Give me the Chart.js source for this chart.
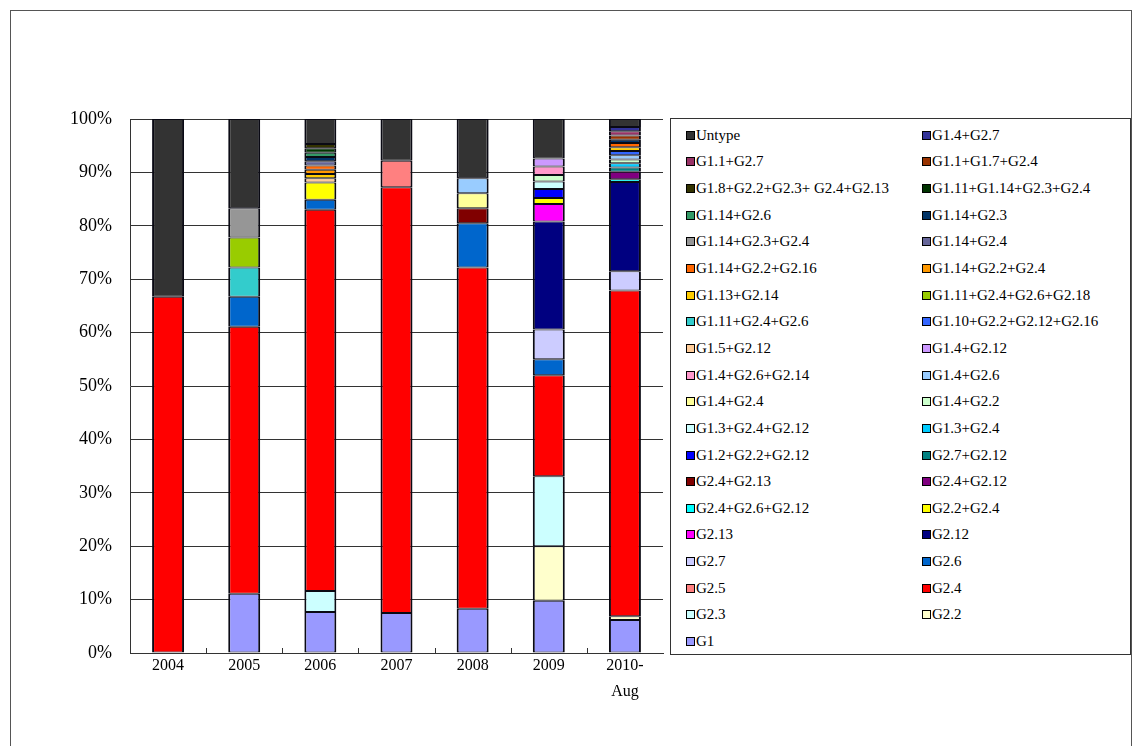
<!DOCTYPE html>
<html>
<head>
<meta charset="utf-8">
<script src="https://cdn.jsdelivr.net/npm/chart.js@4/dist/chart.umd.min.js"></script>
<style>
  html, body { margin: 0; padding: 0; background: #fff; }
  #wrap { position: relative; width: 1144px; height: 746px; overflow: hidden; }
  #frame { position: absolute; left: 10px; top: 10px; width: 1122px; height: 760px; border: 1px solid #555; box-sizing: border-box; }
  #c { position: absolute; left: 0; top: 0; }
  #legend {
    position: absolute; left: 670px; top: 118px; width: 461px; height: 537px;
    border: 1px solid #333; box-sizing: border-box; background: #fff;
    padding: 3px 0 0 15px;
    display: grid; grid-template-columns: 236px 200px; grid-auto-rows: 26.65px;
    font-family: "Liberation Serif", "DejaVu Serif", serif; font-size: 15px; color: #000;
  }
  .item { display: flex; align-items: center; white-space: pre; }
  .sw { width: 7px; height: 7px; border: 1px solid #000; margin-right: 1px; flex: none; }
</style>
</head>
<body>
<div id="wrap">
  <div id="frame"></div>
  <canvas id="c" width="1144" height="746"></canvas>
  <div id="legend"></div>
</div>
<script>
// Years on the category axis
const years = ['2004', '2005', '2006', '2007', '2008', '2009', ['2010-', 'Aug']];

// Genotype combinations, in stacking order (bottom to top)
const genotypes = [
  'G1', 'G2.2', 'G2.3', 'G2.4', 'G2.5', 'G2.6', 'G2.7', 'G2.12', 'G2.13',
  'G2.2+G2.4', 'G2.4+G2.6+G2.12', 'G2.4+G2.12', 'G2.4+G2.13', 'G2.7+G2.12',
  'G1.2+G2.2+G2.12', 'G1.3+G2.4', 'G1.3+G2.4+G2.12', 'G1.4+G2.2', 'G1.4+G2.4',
  'G1.4+G2.6', 'G1.4+G2.6+G2.14', 'G1.4+G2.12', 'G1.5+G2.12',
  'G1.10+G2.2+G2.12+G2.16', 'G1.11+G2.4+G2.6', 'G1.11+G2.4+G2.6+G2.18',
  'G1.13+G2.14', 'G1.14+G2.2+G2.4', 'G1.14+G2.2+G2.16', 'G1.14+G2.4',
  'G1.14+G2.3+G2.4', 'G1.14+G2.3', 'G1.14+G2.6', 'G1.11+G1.14+G2.3+G2.4',
  'G1.8+G2.2+G2.3+ G2.4+G2.13', 'G1.1+G1.7+G2.4', 'G1.1+G2.7', 'G1.4+G2.7', 'Untype'
];

// Fill colour of each genotype, same order as above
const palette = [
  '#9999FF', '#FFFFCC', '#CCFFFF', '#FF0000', '#FF8080', '#0066CC', '#CCCCFF', '#000080', '#FF00FF',
  '#FFFF00', '#00FFFF', '#800080', '#800000', '#008080',
  '#0000FF', '#00CCFF', '#CCFFFF', '#CCFFCC', '#FFFF99',
  '#99CCFF', '#FF99CC', '#CC99FF', '#FFCC99',
  '#3366FF', '#33CCCC', '#99CC00',
  '#FFCC00', '#FF9900', '#FF6600', '#666699',
  '#969696', '#003366', '#339966', '#003300',
  '#333300', '#993300', '#993366', '#333399', '#333333'
];

// Share (%) of each genotype per year, same order as genotypes
//              G1   2.2  2.3  2.4   2.5  2.6  2.7  2.12  2.13 | 9    10   11   12   13 | 14   15   16   17   18 | 19   20   21   22 | 23   24   25 | 26   27   28   29 | 30   31   32   33 | 34   35   36   37  Untype
const y2004 = [0,   0,   0,   66.7, 0,   0,   0,   0,    0,     0,   0,   0,   0,   0,   0,   0,   0,   0,   0,   0,   0,   0,   0,   0,   0,   0,   0,   0,   0,   0,   0,   0,   0,   0,   0,   0,   0,   0,   33.3];
const y2005 = [11.1, 0,  0,   50.0, 0,   5.6, 0,   0,    0,     0,   0,   0,   0,   0,   0,   0,   0,   0,   0,   0,   0,   0,   0,   0,   5.5, 5.6, 0,   0,   0,   0,   5.5, 0,   0,   0,   0,   0,   0,   0,   16.7];
const y2006 = [7.7, 0,   3.9, 71.4, 0,   1.9, 0,   0,    0,     3.2, 0,   0,   0,   0,   0,   0,   0,   0,   0,   0,   0,   0,   0.8, 0,   0,   0,   0.8, 0.8, 0.8, 0.8, 0,   0.8, 0.8, 0.8, 0.8, 0,   0,   0,   4.7];
const y2007 = [7.5, 0,   0,   79.7, 5.0, 0,   0,   0,    0,     0,   0,   0,   0,   0,   0,   0,   0,   0,   0,   0,   0,   0,   0,   0,   0,   0,   0,   0,   0,   0,   0,   0,   0,   0,   0,   0,   0,   0,   7.8];
const y2008 = [8.3, 0,   0,   63.9, 0,   8.3, 0,   0,    0,     0,   0,   0,   2.8, 0,   0,   0,   0,   0,   2.8, 2.8, 0,   0,   0,   0,   0,   0,   0,   0,   0,   0,   0,   0,   0,   0,   0,   0,   0,   0,   11.1];
const y2009 = [9.8, 10.2, 13.1, 18.9, 0,  3.0, 5.6, 20.2, 3.3,   1.1, 0,   0,   0,   0,   1.7, 0,   1.4, 1.2, 0,   0,   1.6, 1.5, 0,   0,   0,   0,   0,   0,   0,   0,   0,   0,   0,   0,   0,   0,   0,   0,   7.4];
const y2010 = [6.2, 0.7, 0,   61.0, 0,   0,   3.6, 16.7, 0,     0,   0.5, 1.4, 0,   0.8, 0,   0.8, 0,   0.7, 0,   0.8, 0,   0,   0,   0.8, 0,   0,   0.7, 0,   0.8, 0,   0,   0.6, 0,   0,   0,   0.8, 0.8, 0.8, 1.5];

const byYear = [y2004, y2005, y2006, y2007, y2008, y2009, y2010];
const yTicks = [0, 10, 20, 30, 40, 50, 60, 70, 80, 90, 100];

const datasets = genotypes.map((name, i) => ({
  label: name,
  data: byYear.map(row => row[i]),
  backgroundColor: palette[i],
  borderColor: '#0a0a14',
  borderWidth: { top: 1, bottom: 1, left: 2, right: 2 },
  borderSkipped: false,
  inflateAmount: 0,
  barPercentage: 0.42,
  categoryPercentage: 1.0
}));

const serif = '"Liberation Serif", "DejaVu Serif", serif';

// Short inward tick marks on the x axis at category boundaries
const innerTicks = {
  id: 'innerTicks',
  afterDatasetsDraw(chart) {
    const xs = chart.scales.x, ctx = chart.ctx;
    const step = xs.width / xs.ticks.length;
    ctx.save();
    ctx.strokeStyle = '#333';
    ctx.lineWidth = 1;
    for (let i = 1; i < xs.ticks.length; i++) {
      const x = Math.round(xs.getPixelForTick(i) - step / 2) + 0.5;
      ctx.beginPath();
      ctx.moveTo(x, xs.top);
      ctx.lineTo(x, xs.top - 5);
      ctx.stroke();
    }
    ctx.restore();
  }
};

const chart = new Chart(document.getElementById('c'), {
  type: 'bar',
  data: { labels: years, datasets },
  options: {
    responsive: false,
    animation: false,
    devicePixelRatio: 1,
    layout: { padding: { left: 0, right: 481, top: 119, bottom: 0 } },
    plugins: { legend: { display: false }, tooltip: { enabled: false } },
    scales: {
      x: {
        stacked: true,
        grid: { display: false, drawTicks: false },
        border: { display: true, color: '#333' },
        ticks: { color: '#000', font: { family: serif, size: 16, lineHeight: 1.6 }, padding: 0, maxRotation: 0, autoSkip: false },
        afterFit(s) { s.height = 93; }
      },
      y: {
        stacked: true,
        min: 0, max: 100,
        afterBuildTicks(s) { s.ticks = yTicks.map(v => ({ value: v })); },
        grid: { color: '#333', lineWidth: 1, drawTicks: false },
        border: { display: true, color: '#333' },
        ticks: { color: '#000', font: { family: serif, size: 18 }, padding: 18, callback: v => v + '%' },
        afterFit(s) { s.width = 130; }
      }
    }
  },
  plugins: [innerTicks]
});

// Legend: two columns, read row by row from the top of the stack downwards
const legendEl = document.getElementById('legend');
chart.data.datasets.slice().reverse().forEach(ds => {
  const item = document.createElement('div');
  item.className = 'item';
  const sw = document.createElement('span');
  sw.className = 'sw';
  sw.style.background = ds.backgroundColor;
  const tx = document.createElement('span');
  tx.textContent = ds.label;
  item.appendChild(sw);
  item.appendChild(tx);
  legendEl.appendChild(item);
});
</script>
</body>
</html>
